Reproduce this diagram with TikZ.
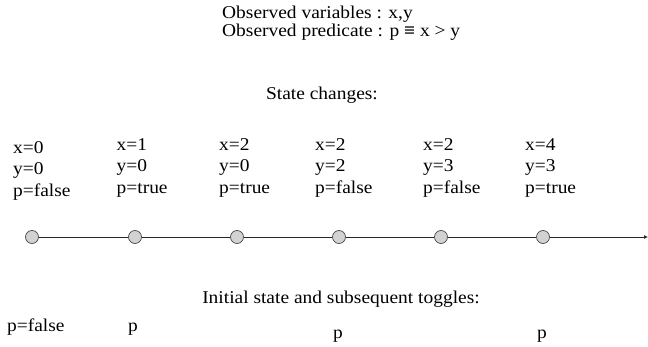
\documentclass[tikz,border=0pt]{standalone}
\usepackage{fontspec}
\setmainfont{Liberation Serif}[FakeStretch=1.08]
\usetikzlibrary{arrows.meta}
\begin{document}
\begin{tikzpicture}[x=1pt,y=-1pt,
  txt/.style={inner sep=0pt,anchor=base west,font=\fontsize{18}{21}\selectfont},
  ctxt/.style={inner sep=0pt,anchor=base,font=\fontsize{18}{21}\selectfont},
  state/.style={circle,draw=black!70,fill=gray!35,line width=0.7pt,minimum size=13pt,inner sep=0pt},
  link/.style={draw=black!85,line width=0.8pt}]
\useasboundingbox (0,0) rectangle (648,347);
% header
\node[txt] (h1) at (222,18.5) {Observed variables : x,y};
\node[txt] (h2) at (222,37) {Observed predicate : p \textbf{≡} x {>} y};
\node[ctxt] (sc) at (322,100) {State changes:};
% state columns
\node[txt] (a1) at (13,154) {x=0};
\node[txt] (a2) at (13,175) {y=0};
\node[txt] (a3) at (13,196.5) {p=false};
\node[txt] (b1) at (116.5,151) {x=1};
\node[txt] (b2) at (116.5,172) {y=0};
\node[txt] (b3) at (116.5,193.5) {p=true};
\node[txt] (c1) at (219,151) {x=2};
\node[txt] (c2) at (219,172) {y=0};
\node[txt] (c3) at (219,193.5) {p=true};
\node[txt] (d1) at (315,151) {x=2};
\node[txt] (d2) at (315,172) {y=2};
\node[txt] (d3) at (315,193.5) {p=false};
\node[txt] (e1) at (423,151) {x=2};
\node[txt] (e2) at (423,172) {y=3};
\node[txt] (e3) at (423,193.5) {p=false};
\node[txt] (f1) at (525,151) {x=4};
\node[txt] (f2) at (525,172) {y=3};
\node[txt] (f3) at (525,193.5) {p=true};
% timeline
\node[state] (s1) at (32,237) {};
\node[state] (s2) at (135,237) {};
\node[state] (s3) at (237,237) {};
\node[state] (s4) at (339,237) {};
\node[state] (s5) at (441,237) {};
\node[state] (s6) at (543,237) {};
\coordinate (tend) at (648,237);
\draw[link] (s1) -- (s2);
\draw[link] (s2) -- (s3);
\draw[link] (s3) -- (s4);
\draw[link] (s4) -- (s5);
\draw[link] (s5) -- (s6);
\draw[link,-{Latex[length=4pt,width=4pt]}] (s6) -- (tend);
% toggles
\node[ctxt] (it) at (341,303.5) {Initial state and subsequent toggles:};
\node[txt] (t0) at (7,331) {p=false};
\node[txt] (t1) at (128,331) {p};
\node[txt] (t2) at (333,338) {p};
\node[txt] (t3) at (537,338) {p};
\end{tikzpicture}
\end{document}
